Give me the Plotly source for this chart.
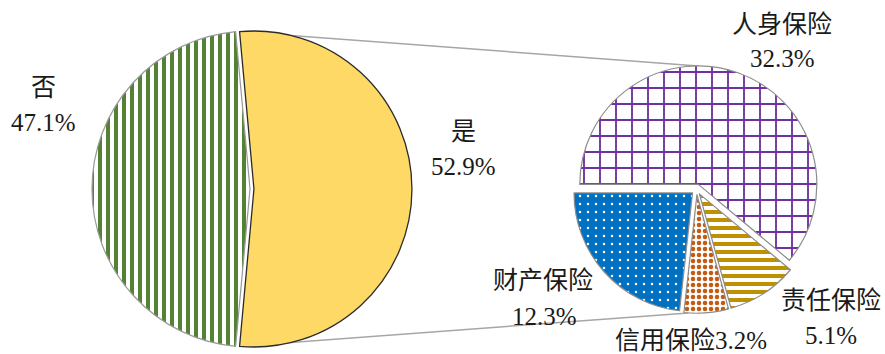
import math
import plotly.graph_objects as go

# ---------------- data ----------------
main_labels = ["是", "否"]
main_values = [52.9, 47.1]
sub_labels = ["人身保险", "责任保险", "信用保险", "财产保险"]
sub_values = [32.3, 5.1, 3.2, 12.3]

# ---------------- layout constants (pixels) ----------------
W, H = 885, 354
FONT = "'Liberation Serif', 'Noto Sans CJK SC', serif"
FS = 25

cx1, cy1, r1 = 250.0, 189.0, 158.0
pull1 = [0.025, 0.0]
cx2, cy2, r2 = 696.5, 189.4, 118.5
pull2 = [0.045, 0.045, 0.045, 0.045]

total1 = sum(main_values)
total2 = sum(sub_values)
rot1 = 90 - 360 * main_values[0] / total1 / 2
rot2 = -90


def domain(cx, cy, r, pmax):
    half = r * (1 + pmax)
    return dict(x=[(cx - half) / W, (cx + half) / W],
                y=[1 - (cy + half) / H, 1 - (cy - half) / H])


def slice_offset(values, rot, pulls, r, idx):
    tot = sum(values)
    start = rot + 360 * sum(values[:idx]) / tot
    mid = start + 360 * values[idx] / tot / 2
    a = math.radians(mid)
    return pulls[idx] * r * math.sin(a), -pulls[idx] * r * math.cos(a)


def slice_at(values, rot, ang):
    tot = sum(values)
    acc = rot
    for i, v in enumerate(values):
        a = (ang - acc) % 360
        if a <= 360 * v / tot:
            return i
        acc += 360 * v / tot
    return len(values) - 1


def rim_point(cx, cy, r, values, rot, pulls, idx, ang):
    ox, oy = slice_offset(values, rot, pulls, r, idx)
    a = math.radians(ang)
    return cx + ox + r * math.sin(a), cy + oy - r * math.cos(a)


# connector end points, derived from slice geometry
a_top = rot1
a_bot = rot1 + 360 * main_values[0] / total1
p1 = rim_point(cx1, cy1, r1, main_values, rot1, pull1, 0, a_top)
p2 = rim_point(cx1, cy1, r1, main_values, rot1, pull1, 0, a_bot)
q1 = rim_point(cx2, cy2, r2, sub_values, rot2, pull2, slice_at(sub_values, rot2, 0), 0)
q2 = rim_point(cx2, cy2, r2, sub_values, rot2, pull2, slice_at(sub_values, rot2, 184), 184)

fig = go.Figure()

fig.add_trace(go.Pie(
    labels=main_labels, values=main_values, sort=False, direction="clockwise",
    rotation=rot1, pull=pull1, textinfo="none", showlegend=False,
    domain=domain(cx1, cy1, r1, max(pull1)),
    marker=dict(
        colors=["#FFD966", "#FFFFFF"],
        line=dict(color=["#2B2B2B", "#9A9A9A"], width=[1.3, 1.2]),
        pattern=dict(shape=["", "|"], fgcolor=["#FFD966", "#548235"],
                     bgcolor=["#FFD966", "#FFFFFF"], size=[8, 8],
                     solidity=[0.5, 0.5], fillmode="replace", fgopacity=1),
    ),
))

fig.add_trace(go.Pie(
    labels=sub_labels, values=sub_values, sort=False, direction="clockwise",
    rotation=rot2, pull=pull2, textinfo="none", showlegend=False,
    domain=domain(cx2, cy2, r2, max(pull2)),
    marker=dict(
        colors=["#FFFFFF", "#FFFFFF", "#FFFFFF", "#0070C0"],
        line=dict(color="#8C8C8C", width=1.2),
        pattern=dict(shape=["+", "-", ".", "."],
                     fgcolor=["#7030A0", "#BF9000", "#C55A11", "#FFFFFF"],
                     bgcolor=["#FFFFFF", "#FFFFFF", "#FFFFFF", "#0070C0"],
                     size=[16, 8, 6, 8], solidity=[0.22, 0.5, 0.45, 0.08],
                     fillmode="replace", fgopacity=1),
    ),
))

for (ax, ay), (bx, by) in [(p1, q1), (p2, q2)]:
    fig.add_shape(type="line", xref="paper", yref="paper", layer="below",
                  x0=ax / W, y0=1 - ay / H, x1=bx / W, y1=1 - by / H,
                  line=dict(color="#A6A6A6", width=1.5))

# label positions (pixel centres)
name_pos_main = [(463, 131), (43, 87)]
val_pos_main = [(463, 166), (43, 123)]
name_pos_sub = [(782, 25), (831, 300), None, (543, 280)]
val_pos_sub = [(782, 59), (831, 335), None, (544, 316)]
inline_pos_sub = [None, None, (691, 340), None]


def add_text(txt, x, y):
    fig.add_annotation(text=txt, x=x / W, y=1 - y / H, xref="paper", yref="paper",
                       showarrow=False, xanchor="center", yanchor="middle",
                       font=dict(family=FONT, size=FS, color="#1A1A1A"))


for i, lab in enumerate(main_labels):
    add_text(lab, *name_pos_main[i])
    add_text(f"{main_values[i]:.1f}%", *val_pos_main[i])

for i, lab in enumerate(sub_labels):
    if inline_pos_sub[i] is not None:
        add_text(f"{lab}{sub_values[i]:.1f}%", *inline_pos_sub[i])
    else:
        add_text(lab, *name_pos_sub[i])
        add_text(f"{sub_values[i]:.1f}%", *val_pos_sub[i])

fig.update_layout(width=W, height=H, margin=dict(l=0, r=0, t=0, b=0),
                  paper_bgcolor="white", plot_bgcolor="white", showlegend=False)

fig.write_html("out.html", config={"displayModeBar": False},
               post_script="document.body.style.margin='0';document.body.style.padding='0';")
